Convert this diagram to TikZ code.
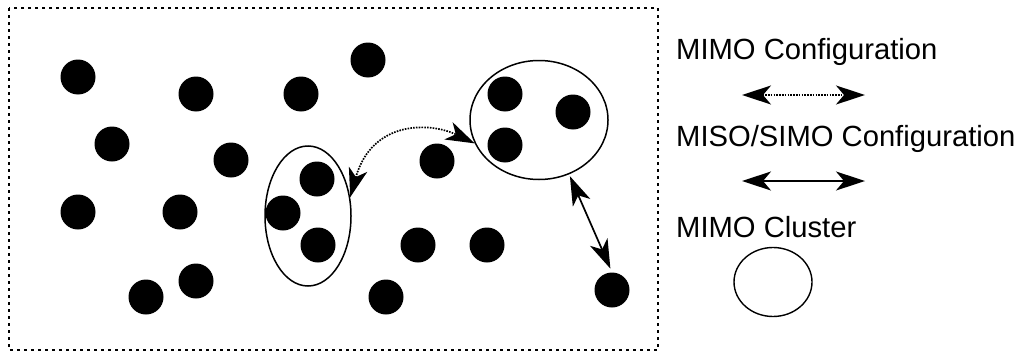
\documentclass[tikz,border=0pt]{standalone}
\usepackage{fontspec}
\setmainfont{Liberation Sans}
\usetikzlibrary{arrows.meta,shapes.geometric}
\begin{document}
\begin{tikzpicture}[x=1pt,y=-1pt,
  node/.style={circle,fill=black,minimum size=35pt,inner sep=0pt},
  cluster/.style={ellipse,draw,line width=1.5pt,inner sep=0pt},
  link/.style={line width=1.7pt,{Stealth[length=29pt,width=19pt,inset=8pt]}-{Stealth[length=29pt,width=19pt,inset=8pt]}},
  mimolink/.style={link,dash pattern=on 1.6pt off 1.2pt},
  legendtext/.style={anchor=base west,inner sep=0pt,font=\fontsize{29.2}{34}\selectfont}]
\useasboundingbox (0,0) rectangle (1019,356);

% network area
\draw[line width=2.6pt,dash pattern=on 2.6pt off 4.4pt] (9,8) rectangle (658,350);

% clusters
\node[cluster,minimum width=86pt,minimum height=140pt] (clusterL) at (308,216) {};
\node[cluster,minimum width=138pt,minimum height=119pt] (clusterR) at (539,120) {};

% terminals
\node[node] (d1)  at (78,77) {};
\node[node] (d2)  at (196,94) {};
\node[node] (d3)  at (301,94) {};
\node[node] (d4)  at (368,60) {};
\node[node] (d5)  at (112,144) {};
\node[node] (d6)  at (231,160) {};
\node[node] (d7)  at (78,212) {};
\node[node] (d8)  at (180,212) {};
\node[node] (d9)  at (196,281) {};
\node[node] (d10) at (146,297) {};
\node[node] (d11) at (317,179) {};
\node[node] (d12) at (283,213) {};
\node[node] (d13) at (318,245) {};
\node[node] (d14) at (437,161) {};
\node[node] (d15) at (418,245) {};
\node[node] (d16) at (487,245) {};
\node[node] (d17) at (386,297) {};
\node[node] (d18) at (505,94) {};
\node[node] (d19) at (573,112) {};
\node[node] (d20) at (505,145) {};
\node[node] (d21) at (612,290) {};

% links
\draw[mimolink] (clusterL.24) .. controls (372,120) and (430,122) .. (clusterR.200);
\draw[link,shorten <=2pt,shorten >=4pt] (clusterR.-61) -- (d21.north);

% legend
\node[legendtext] (t1) at (676,59) {MIMO Configuration};
\coordinate (la1) at (742,95);
\coordinate (la2) at (865,95);
\draw[mimolink] (la1) -- (la2);

\node[legendtext] (t2) at (676,146) {MISO/SIMO Configuration};
\coordinate (lb1) at (742,181);
\coordinate (lb2) at (865,181);
\draw[link,line width=1.5pt] (lb1) -- (lb2);

\node[legendtext] (t3) at (676,237) {MIMO Cluster};
\node[cluster,line width=1.4pt,minimum width=78pt,minimum height=69pt] (lc) at (773,282) {};
\end{tikzpicture}
\end{document}
